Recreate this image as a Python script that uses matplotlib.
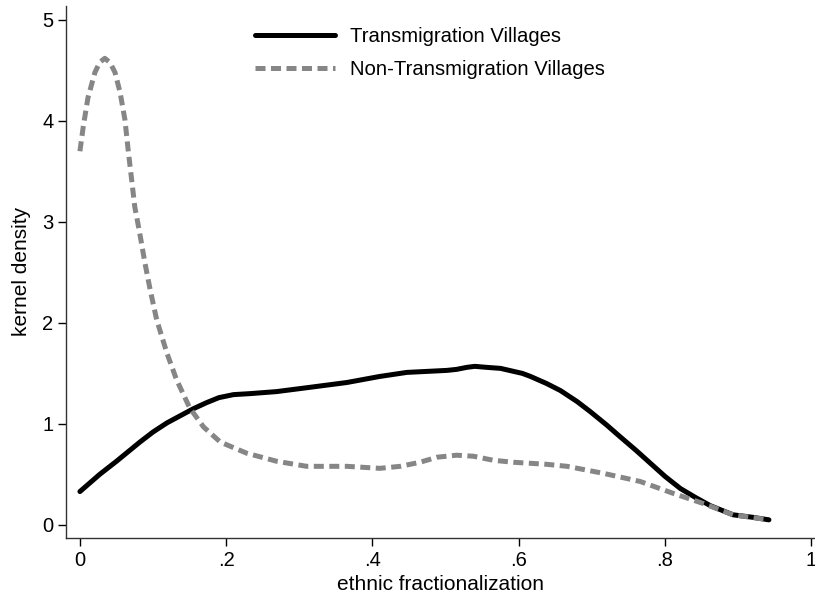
import matplotlib
matplotlib.use("Agg")
import matplotlib.pyplot as plt

plt.rcParams['font.family'] = ['Liberation Sans', 'DejaVu Sans']

# kernel density, transmigration villages
trans_x = [0, 0.027, 0.05, 0.082, 0.10, 0.119, 0.137, 0.155, 0.173, 0.19, 0.21, 0.233,
           0.269, 0.312, 0.365, 0.41, 0.447, 0.502, 0.515, 0.529, 0.54, 0.556, 0.575,
           0.593, 0.605, 0.616, 0.638, 0.657, 0.68, 0.698, 0.72, 0.739, 0.76, 0.78,
           0.80, 0.821, 0.842, 0.862, 0.893, 0.92, 0.942]
trans_y = [0.33, 0.50, 0.63, 0.82, 0.92, 1.01, 1.08, 1.15, 1.21, 1.26, 1.29, 1.30,
           1.32, 1.36, 1.41, 1.47, 1.51, 1.53, 1.54, 1.56, 1.57, 1.56, 1.55,
           1.52, 1.50, 1.47, 1.40, 1.33, 1.22, 1.12, 0.99, 0.87, 0.74, 0.61,
           0.48, 0.36, 0.27, 0.19, 0.10, 0.075, 0.05]

# kernel density, non-transmigration villages
non_x = [0, 0.0045, 0.011, 0.0205, 0.027, 0.034, 0.041, 0.048, 0.055, 0.0616, 0.066,
         0.0707, 0.075, 0.081, 0.089, 0.096, 0.105, 0.119, 0.132, 0.150, 0.169, 0.192,
         0.228, 0.269, 0.31, 0.365, 0.41, 0.438, 0.465, 0.488, 0.515, 0.538, 0.565,
         0.593, 0.638, 0.666, 0.716, 0.766, 0.812, 0.853, 0.893, 0.942]
non_y = [3.70, 3.94, 4.23, 4.48, 4.58, 4.62, 4.58, 4.48, 4.28, 4.01, 3.71,
         3.42, 3.15, 2.92, 2.59, 2.33, 2.03, 1.70, 1.44, 1.16, 0.97, 0.82,
         0.71, 0.63, 0.58, 0.58, 0.56, 0.58, 0.62, 0.67, 0.69, 0.68, 0.64,
         0.62, 0.60, 0.58, 0.51, 0.43, 0.31, 0.21, 0.10, 0.05]

xticks = [0, 0.2, 0.4, 0.6, 0.8, 1]
xticklabels = ['0', '.2', '.4', '.6', '.8', '1']
yticks = [0, 1, 2, 3, 4, 5]

fig = plt.figure(figsize=(8.15, 6), dpi=100)
ax = fig.add_axes([0.081, 0.1033, 0.919, 0.887])

ax.plot(trans_x, trans_y, color='black', lw=3.6, solid_joinstyle='round',
        solid_capstyle='round', label='Transmigration Villages')
ax.plot(non_x, non_y, color='#868686', lw=3.6, dashes=(2.0, 1.1),
        dash_capstyle='butt', label='Non-Transmigration Villages')

ax.set_xlim(-0.019, 1.005)
ax.set_ylim(-0.13, 5.14)
ax.set_xticks(xticks)
ax.set_xticklabels(xticklabels)
ax.set_yticks(yticks)
ax.tick_params(direction='out', length=6, width=1, labelsize=14.5, pad=3)
for s in ['top', 'right']:
    ax.spines[s].set_visible(False)
for s in ['left', 'bottom']:
    ax.spines[s].set_linewidth(1)
    ax.spines[s].set_color('#333333')

ax.set_xlabel('ethnic fractionalization', fontsize=15, labelpad=4)
ax.set_ylabel('kernel density', fontsize=15, labelpad=8)

ax.legend(loc='upper left', bbox_to_anchor=(0.2523, 0.9605), frameon=False,
          fontsize=14.6, handlelength=3.95, handletextpad=0.74, labelspacing=0.68,
          borderaxespad=0, borderpad=0)

fig.savefig('out.png', dpi=100)
